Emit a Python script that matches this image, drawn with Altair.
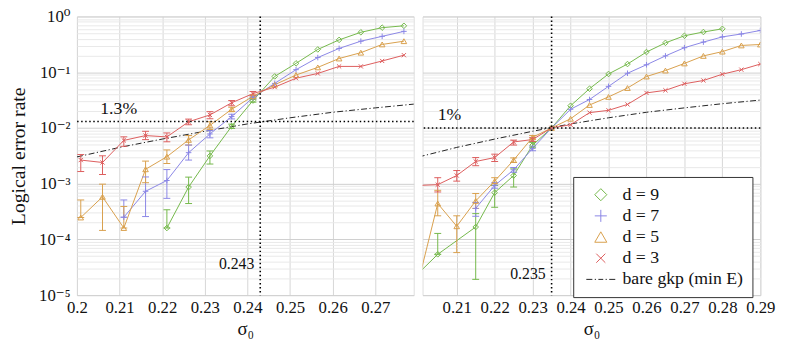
import altair as alt
import pandas as pd

FONT = "'Liberation Serif', 'DejaVu Serif', serif"

SERIES = ["d = 9", "d = 7", "d = 5", "d = 3", "bare gkp (min E)"]
COLORS = ["#74b84a", "#8a86e6", "#d8a04c", "#dc5c5c", "#222222"]
SHAPES = [
    "diamond",
    "M-1,0L1,0M0,-1L0,1",
    "triangle-up",
    "M-0.75,-0.75L0.75,0.75M-0.75,0.75L0.75,-0.75",
    "M-2.4,0L-1.4,0M-1.0,0L-0.8,0M-0.4,0L0.4,0M0.8,0L1.0,0M1.4,0L2.4,0",
]

# ---------------- left panel ----------------
SIG_L = [0.2009, 0.2060, 0.2110, 0.2161, 0.2211, 0.2262, 0.2312, 0.2363,
         0.2413, 0.2464, 0.2514, 0.2565, 0.2615, 0.2666, 0.2716, 0.2767]
D9_L = [None, None, None, None, 1.6e-4, 8.7e-4, 3.15e-3, 0.0107, 0.031, 0.084, 0.144, 0.256, 0.38, 0.52, 0.63, 0.68]
D9_L_LO = [None, None, None, None, 1.6e-4, 4.4e-4, 2.25e-3, 0.0098, 0.029] + [None] * 7
D9_L_HI = [None, None, None, None, 3.4e-4, 1.31e-3, 3.86e-3, 0.0117, 0.033] + [None] * 7
D7_L = [None, None, 2.5e-4, 7.3e-4, 1.14e-3, 3.6e-3, 7.8e-3, 0.016, 0.035, 0.063, 0.111, 0.183, 0.267, 0.36, 0.44, 0.54]
D7_L_LO = [None, None, 2.5e-4, 2.57e-4, 5.45e-4, 2.65e-3, 6.64e-3, 0.0145, 0.033] + [None] * 7
D7_L_HI = [None, None, 5.1e-4, 1.32e-3, 1.79e-3, 4.93e-3, 8.95e-3, 0.0176, 0.037] + [None] * 7
D5_L = [2.47e-4, 5.8e-4, 1.6e-4, 1.81e-3, 3.05e-3, 6.1e-3, 0.0111, 0.0216, 0.037, 0.0596, 0.089, 0.122, 0.176, 0.224, 0.315, 0.36]
D5_L_LO = [2.47e-4, 1.45e-4, 1.6e-4, 1.04e-3, 2.3e-3, 4.93e-3, 0.0094, 0.0198, 0.035] + [None] * 7
D5_L_HI = [5.1e-4, 9.8e-4, 3.9e-4, 2.54e-3, 4.03e-3, 7.3e-3, 0.0129, 0.0235, 0.039] + [None] * 7
D3_L = [2.65e-3, 2.4e-3, 5.97e-3, 7.3e-3, 6.9e-3, 0.0129, 0.0171, 0.0283, 0.0413, 0.054, 0.078, 0.095, 0.127, 0.127, 0.159, 0.202]
D3_L_LO = [1.65e-3, 1.46e-3, 4.68e-3, 6.17e-3, 5.64e-3, 0.0114, 0.0146, 0.025, 0.038] + [None] * 7
D3_L_HI = [3.33e-3, 3.16e-3, 6.92e-3, 8.7e-3, 8.13e-3, 0.0144, 0.0196, 0.031, 0.045] + [None] * 7

# ---------------- right panel ----------------
SIG_R = [0.200, 0.205, 0.210, 0.215, 0.220, 0.225, 0.230, 0.235, 0.240, 0.245,
         0.250, 0.255, 0.260, 0.265, 0.270, 0.275, 0.280, 0.285, 0.290]
D9_R = [2.5e-5, 5.4e-5, None, 1.67e-4, 6.9e-4, 1.4e-3, 4.9e-3, 0.01, 0.025, 0.0506, 0.093, 0.14, 0.23, 0.336, 0.45, 0.526, 0.6, None, None]
D9_R_LO = [None, 5.4e-5, None, 1.92e-5, 3.77e-4, 8.7e-4, 4.4e-3] + [None] * 12
D9_R_HI = [None, 1.28e-4, None, 2.9e-4, 9.3e-4, 1.84e-3, 5.5e-3] + [None] * 12
D7_R = [None, None, None, 3.6e-4, 9.3e-4, 1.77e-3, 4.3e-3, 0.01, 0.0216, 0.0324, 0.0557, 0.0957, 0.136, 0.196, 0.275, 0.347, 0.43, 0.485, 0.56]
D7_R_LO = [None, None, None, 2.6e-4, 8.3e-4, 1.6e-3, 3.9e-3] + [None] * 12
D7_R_HI = [None, None, None, 4.6e-4, 1.04e-3, 1.95e-3, 4.7e-3] + [None] * 12
D5_R = [1.84e-5, 4.4e-4, 1.72e-4, 4.9e-4, 1.11e-3, 2.65e-3, 6.8e-3, 0.01, 0.0146, 0.0258, 0.036, 0.052, 0.0836, 0.107, 0.1436, 0.196, 0.234, 0.302, 0.314]
D5_R_LO = [None, 2.65e-4, 5.8e-5, 3.6e-4, 9.3e-4, 2.4e-3, 6.3e-3] + [None] * 12
D5_R_HI = [None, 7.6e-4, 2.65e-4, 6.65e-4, 1.28e-3, 2.9e-3, 7.3e-3] + [None] * 12
D3_R = [9.3e-4, 9.6e-4, 1.4e-3, 2.5e-3, 2.94e-3, 5.6e-3, 6.2e-3, 0.01, 0.0114, 0.0188, 0.0207, 0.0264, 0.0425, 0.0473, 0.062, 0.071, 0.092, 0.111, 0.14]
D3_R_LO = [None, 7.1e-4, 1.11e-3, 2.1e-3, 2.5e-3, 4.93e-3, 5.7e-3] + [None] * 12
D3_R_HI = [None, 1.28e-3, 1.72e-3, 2.94e-3, 3.38e-3, 6.04e-3, 6.7e-3] + [None] * 12

# bare gkp (min E), shared by both panels
SIG_GKP = [0.20, 0.21, 0.22, 0.23, 0.24, 0.25, 0.26, 0.27, 0.28, 0.29]
GKP = [3.02e-3, 4.47e-3, 6.31e-3, 8.71e-3, 0.0118, 0.0152, 0.0191, 0.0229, 0.0272, 0.0316]

# thresholds / annotations
TH_SIGMA = [0.243, 0.235]
TH_RATE = [0.013, 0.01]
TH_PCT = ["1.3%", "1%"]
TH_PCT_SIGMA = [0.2098, 0.2081]
TH_SIG_TXT = ["0.243", "0.235"]
TH_SIG_TXT_Y = [3.6e-5, 2.35e-5]

X_DOMAINS = [[0.2, 0.279], [0.201, 0.29]]
X_TICKS = [[0.2, 0.21, 0.22, 0.23, 0.24, 0.25, 0.26, 0.27],
           [0.21, 0.22, 0.23, 0.24, 0.25, 0.26, 0.27, 0.28, 0.29]]
Y_DECADES = [1, 0.1, 0.01, 0.001, 1e-4, 1e-5]
Y_LABELS = ["10⁰", "10⁻¹", "10⁻²", "10⁻³", "10⁻⁴", "10⁻⁵"]
Y_MINOR = [m * d for d in Y_DECADES[1:] for m in range(2, 10)]
Y_VALUES = Y_DECADES + Y_MINOR
Y_TITLE = "Logical error rate"
X_TITLE = "σ₀"

label_expr = " : ".join(
    f"datum.value == {v!r} ? '{t}'" for v, t in zip(Y_DECADES, Y_LABELS)
) + " : ''"
major_test = "abs(log(datum.value)/LN10 - round(log(datum.value)/LN10)) < 0.001"


def frames(sig, vals, los, his):
    rows, errs = [], []
    for name, v, lo, hi in zip(SERIES[:4], vals, los, his):
        for s, a, l, h in zip(sig, v, lo, hi):
            if a is not None:
                rows.append({"sigma": s, "rate": a, "series": name})
            if l is not None and h is not None:
                errs.append({"sigma": s, "lo": l, "hi": h, "series": name})
    return pd.DataFrame(rows), pd.DataFrame(errs)


gkp_df = pd.DataFrame({"sigma": SIG_GKP, "rate": GKP, "series": SERIES[4]})

color_scale = alt.Scale(domain=SERIES, range=COLORS)
shape_scale = alt.Scale(domain=SERIES, range=SHAPES)
legend = alt.Legend(
    title=None, orient="none", legendX=504, legendY=163,
    strokeColor="#333", fillColor="white", padding=9,
    labelFont=FONT, labelFontSize=18, labelColor="#111",
    symbolSize=150, symbolStrokeWidth=1, rowPadding=3.5, labelOffset=13,
    symbolOffset=10,
)


def panel(idx, sig, vals, los, his, width, show_y):
    df, err = frames(sig, vals, los, his)
    xs = alt.Scale(domain=X_DOMAINS[idx], nice=False, zero=False)
    ys = alt.Scale(type="log", domain=[1e-5, 1], nice=False)
    x_axis = alt.Axis(values=X_TICKS[idx], format=".2~f",
                      labelFlush=False, labelFontSize=17, titleFontSize=19,
                      labelPadding=5, titlePadding=4, ticks=False, domain=False,
                      grid=True, gridColor="#d6d6d6", labelFont=FONT, titleFont=FONT,
                      titleFontWeight="normal", labelColor="#111", titleColor="#111")
    grid_color = {"condition": {"test": major_test, "value": "#cfcfcf"}, "value": "#e9e9e9"}
    if show_y:
        y_axis = alt.Axis(values=Y_VALUES, labelExpr=label_expr,
                          labelFontSize=17, titleFontSize=20, labelPadding=7,
                          titlePadding=7, minExtent=42, maxExtent=42, ticks=False,
                          domain=False, labelOverlap=False, labelFont=FONT,
                          titleFont=FONT, titleFontWeight="normal",
                          labelColor="#111", titleColor="#111", gridColor=grid_color)
        ytitle = Y_TITLE
    else:
        y_axis = alt.Axis(values=Y_VALUES, labels=False, ticks=False,
                          domain=False, minExtent=0, maxExtent=0, gridColor=grid_color)
        ytitle = None

    color = alt.Color("series:N", scale=color_scale, legend=legend)
    shape = alt.Shape("series:N", scale=shape_scale, legend=legend)
    x = alt.X("sigma:Q", scale=xs, axis=x_axis, title=X_TITLE)
    y = alt.Y("rate:Q", scale=ys, axis=y_axis, title=ytitle)
    x2 = alt.X2("sigma")

    gkp = alt.Chart(gkp_df).mark_line(strokeWidth=1, strokeDash=[6, 2.5, 1.2, 2.5], clip=True).encode(
        x=x, y=y, color=color)
    lines = alt.Chart(df).mark_line(strokeWidth=1, clip=True).encode(
        x=x, y=y, color=color, detail="series:N")
    bars = alt.Chart(err).mark_rule(strokeWidth=1, clip=True).encode(
        x=x, y=alt.Y("lo:Q", scale=ys, axis=y_axis, title=ytitle), y2="hi:Q", color=color)
    cap_lo = alt.Chart(err).mark_rule(strokeWidth=1, clip=True, xOffset=-3.5, x2Offset=3.5).encode(
        x=x, x2=x2, y=alt.Y("lo:Q", scale=ys, axis=y_axis, title=ytitle), color=color)
    cap_hi = alt.Chart(err).mark_rule(strokeWidth=1, clip=True, xOffset=-3.5, x2Offset=3.5).encode(
        x=x, x2=x2, y=alt.Y("hi:Q", scale=ys, axis=y_axis, title=ytitle), color=color)
    pts = alt.Chart(df).mark_point(filled=False, size=32, strokeWidth=1, clip=True, opacity=1).encode(
        x=x, y=y, color=color, shape=shape)

    th = pd.DataFrame({"sigma": [TH_SIGMA[idx]], "rate": [TH_RATE[idx]]})
    vrule = alt.Chart(th).mark_rule(color="black", strokeWidth=1.6, strokeDash=[1.5, 2.6]).encode(x=x)
    hrule = alt.Chart(th).mark_rule(color="black", strokeWidth=1.6, strokeDash=[1.5, 2.6]).encode(y=y)

    pct = pd.DataFrame({"sigma": [TH_PCT_SIGMA[idx]], "rate": [TH_RATE[idx]], "t": [TH_PCT[idx]]})
    pct_txt = alt.Chart(pct).mark_text(font=FONT, fontSize=18, dy=-13, color="#111").encode(
        x=x, y=y, text="t:N")
    st = pd.DataFrame({"sigma": [TH_SIGMA[idx]], "rate": [TH_SIG_TXT_Y[idx]], "t": [TH_SIG_TXT[idx]]})
    sig_txt = alt.Chart(st).mark_text(font=FONT, fontSize=16, align="right", dx=-6, color="#111").encode(
        x=x, y=y, text="t:N")

    return alt.layer(gkp, lines, bars, cap_lo, cap_hi, pts, vrule, hrule, pct_txt, sig_txt).properties(
        width=width, height=283)


left = panel(0, SIG_L, [D9_L, D7_L, D5_L, D3_L], [D9_L_LO, D7_L_LO, D5_L_LO, D3_L_LO],
             [D9_L_HI, D7_L_HI, D5_L_HI, D3_L_HI], 342, True)
right = panel(1, SIG_R, [D9_R, D7_R, D5_R, D3_R], [D9_R_LO, D7_R_LO, D5_R_LO, D3_R_LO],
              [D9_R_HI, D7_R_HI, D5_R_HI, D3_R_HI], 343, False)

chart = alt.hconcat(left, right, spacing=5).properties(
    padding={"left": 0, "top": -4, "right": 5, "bottom": 0}
).configure_view(stroke="#333", strokeWidth=1).configure(background="white")

chart.save("out.html", embed_options={"renderer": "svg", "actions": False})
